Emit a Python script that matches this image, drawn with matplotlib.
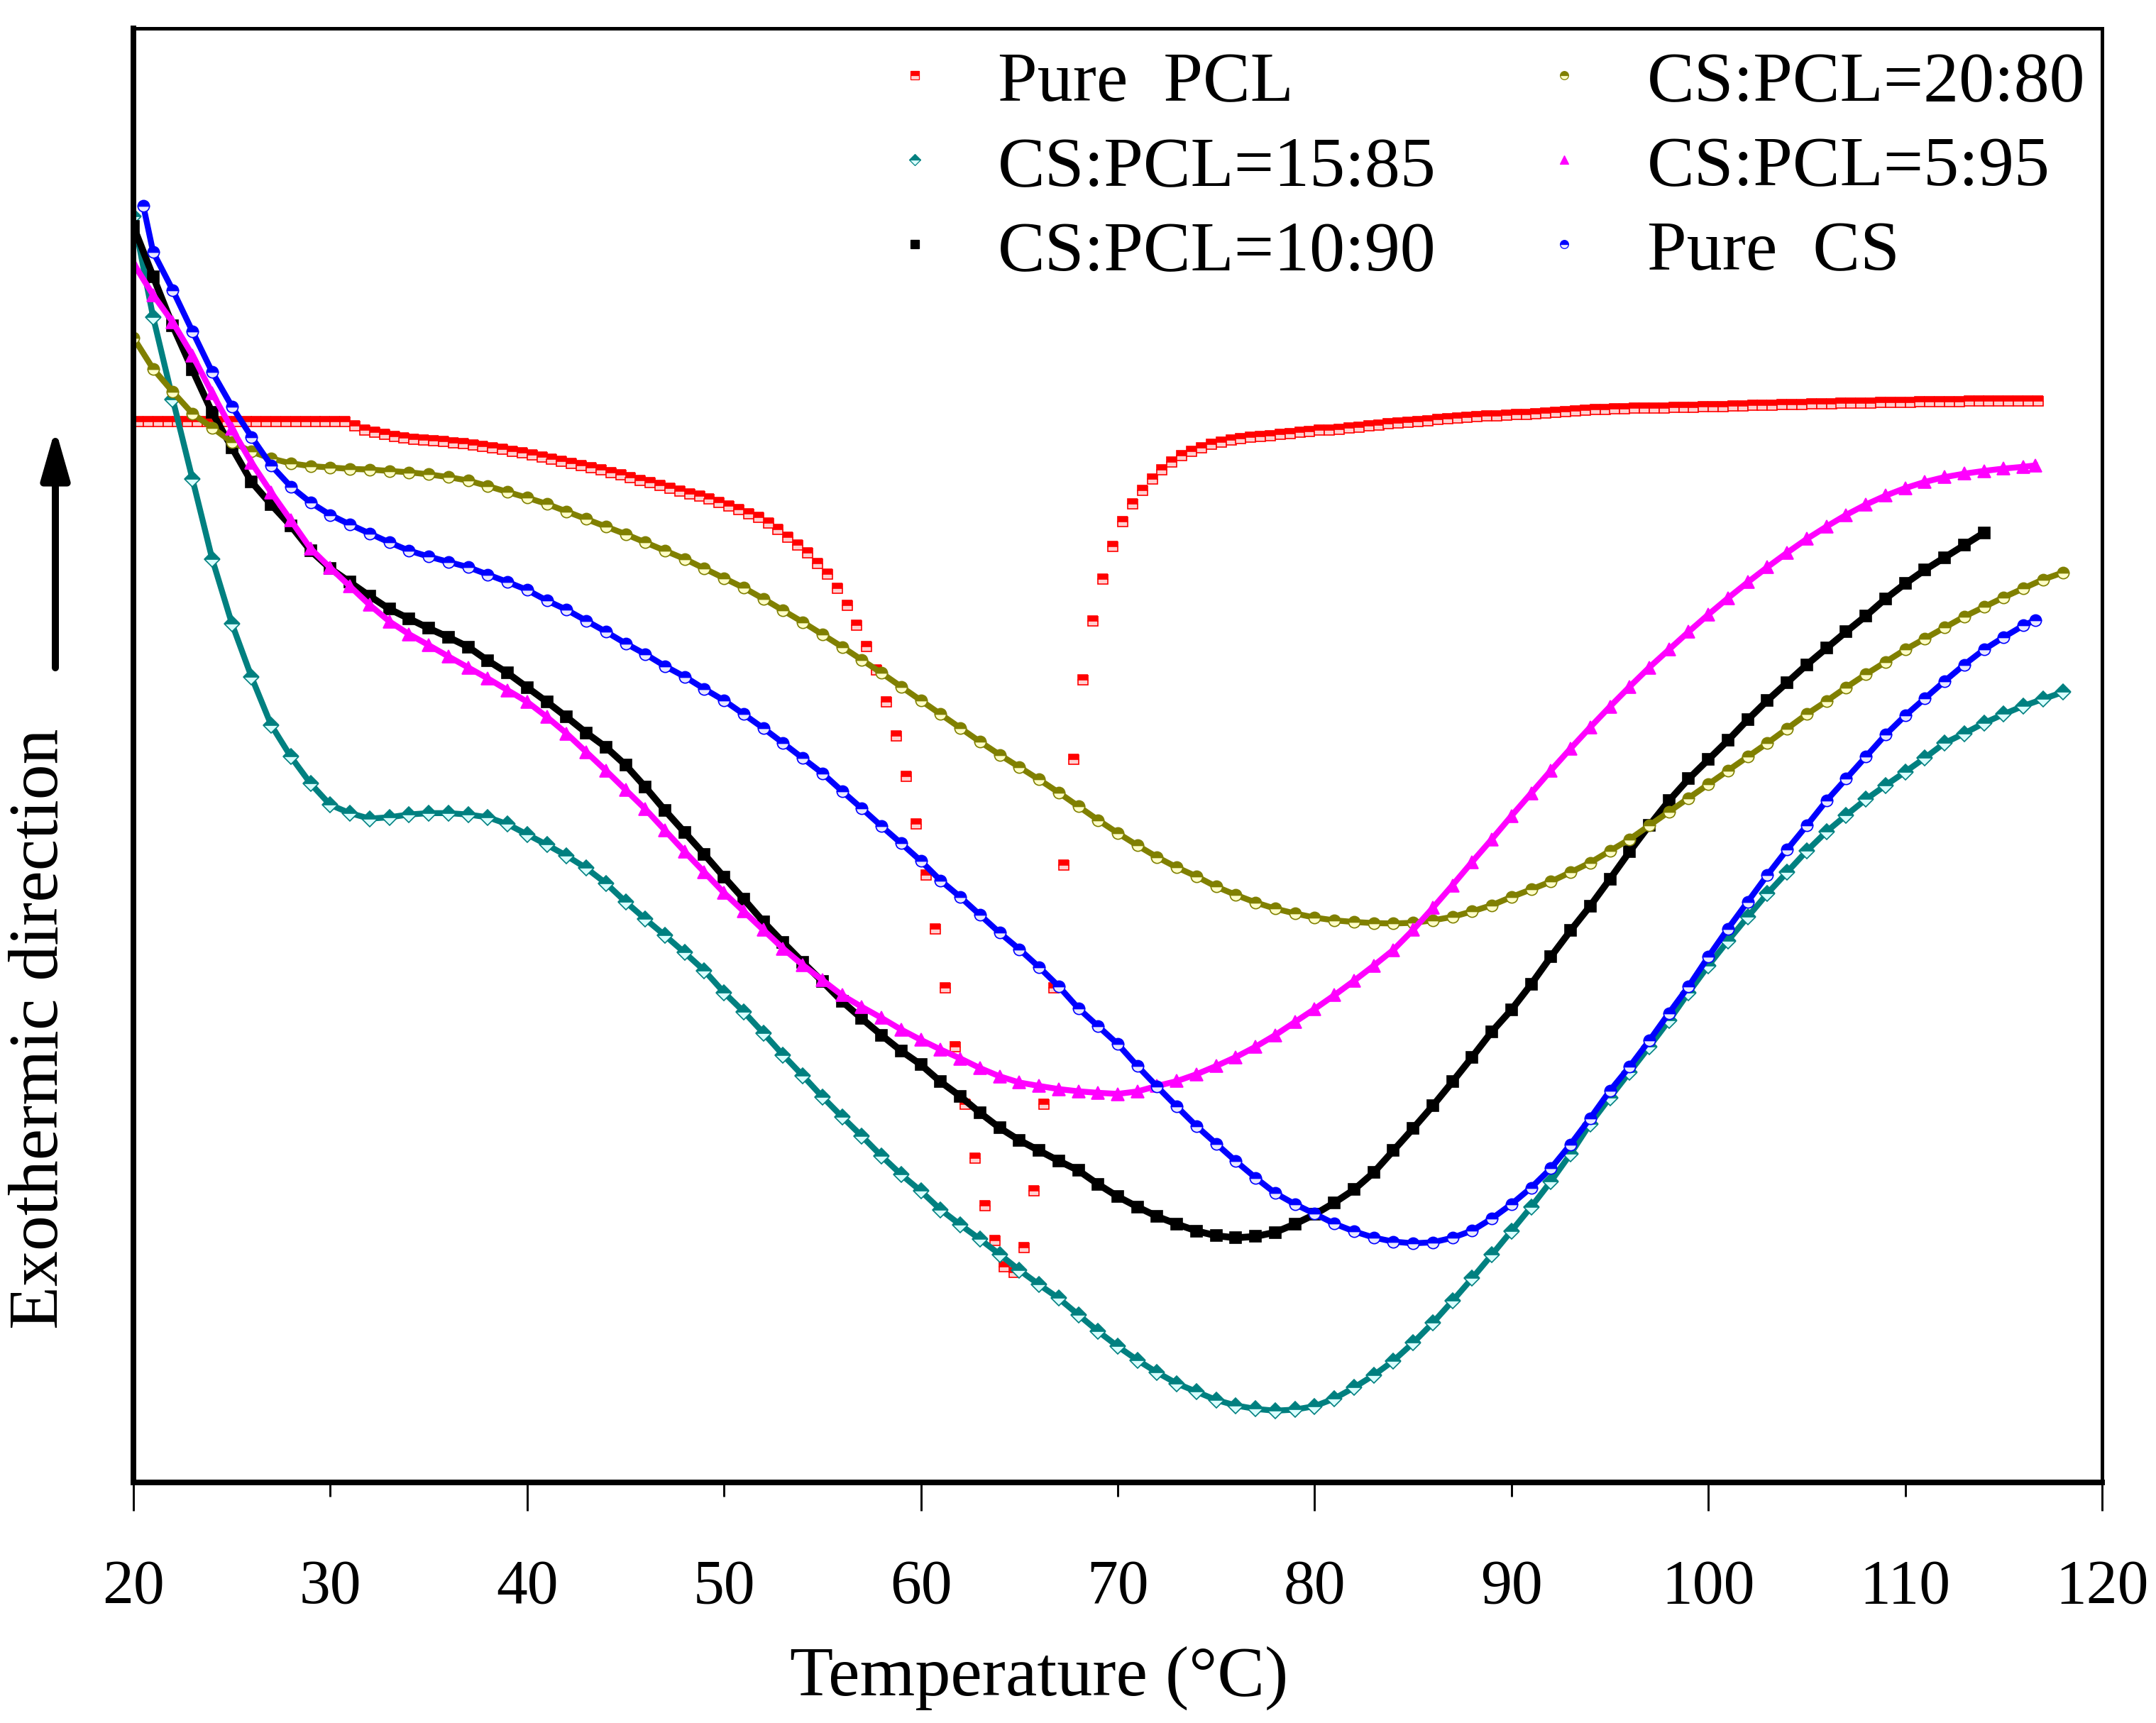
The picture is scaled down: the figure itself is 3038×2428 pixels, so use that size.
import numpy as np
import matplotlib
matplotlib.use('Agg')
import matplotlib.pyplot as plt
from matplotlib.lines import Line2D
from matplotlib.ticker import FormatStrFormatter

# DSC cooling curves.
# y values are relative endothermic depth (arbitrary units, larger = lower on the plot)

# Pure PCL, sampled every 0.5 C
t_pcl = np.arange(20.25, 117, 0.5)
pcl = [307, 307, 307, 307, 307, 307, 307, 307, 307, 307,
       307, 307, 307, 307, 307, 307, 307, 307, 307, 307,
       307, 307, 310, 313, 315, 316.5, 318, 319, 320, 320.5,
       321, 321.5, 322.5, 323, 324, 325, 326, 327, 328.5, 330,
       331.5, 333, 334.5, 336, 337.5, 339, 340.5, 342, 344, 346,
       348, 350, 351.5, 353.5, 355.5, 357.5, 359.5, 361.5, 363.5, 366,
       368.5, 371, 374, 377, 381, 385.5, 391, 397, 402.5, 410.5,
       418, 428.5, 441, 455, 470.5, 488, 511, 536, 565, 600,
       637, 676.5, 719, 762, 804, 843, 877.5, 903, 922, 926,
       908, 867, 804, 719, 630, 553, 495, 452, 421.5, 398,
       380, 367, 357, 349, 342, 336.5, 332, 328.5, 326, 323.5,
       322, 320.5, 319.5, 318.5, 318, 317.5, 316.5, 316, 315, 314.5,
       313.5, 313, 312.5, 311.5, 311, 310, 309.5, 308.5, 308, 307.5,
       307, 306.5, 305.5, 305, 304.5, 304, 303.5, 303, 303, 302.5,
       302, 302, 301.5, 301, 300.5, 300, 299.5, 299, 298.5, 298.5,
       298, 298, 297.5, 297.5, 297, 297, 296.5, 296.5, 296.5, 296,
       296, 296, 295.5, 295.5, 295, 295, 295, 294.5, 294.5, 294.5,
       294, 294, 294, 293.5, 293.5, 293.5, 293.5, 293, 293, 293,
       293, 292.5, 292.5, 292.5, 292.5, 292.5, 292, 292, 292, 292,
       292, 292, 292, 292]

# CS:PCL=15:85
t_1585 = np.arange(20, 119)
cs1585 = [158, 231, 291, 349, 407, 454, 493, 528, 551, 570.5,
          586, 592, 596, 595, 593, 592, 592, 593, 595, 600,
          607.5, 615, 623, 632, 643, 656.5, 669, 681, 693.5, 706.5,
          722.5, 736.5, 752, 768, 783, 798.5, 813, 827, 841.5, 855,
          867, 880.5, 891.5, 902, 913, 924.5, 935, 945, 957, 969,
          980, 990, 999, 1007, 1013, 1019, 1023, 1025.5, 1026.8, 1026,
          1023.5, 1018, 1010, 1001, 990.5, 977.5, 963, 947, 930.5, 913.4,
          896, 878.5, 860, 840, 818, 799, 780.5, 762, 743, 722.5,
          703, 684.8, 667.5, 650.5, 635, 619.5, 605.5, 593.5, 582, 571.8,
          562, 551.8, 541, 534, 526.5, 520, 514, 509, 504]

# CS:PCL=10:90
t_1090 = np.arange(20, 115)
cs1090 = [165, 201.5, 237.5, 269.5, 300.5, 326, 351, 367.5, 383, 401,
          414, 424, 434, 443.5, 450.5, 457.5, 464, 471, 481, 490,
          500.5, 511, 522, 533.5, 544, 557, 573, 590, 606, 622,
          638.5, 654.5, 671, 686, 700.5, 714.5, 729, 741.5, 753.5, 765,
          775, 787.5, 798, 810, 821, 830, 837.5, 845, 852, 862,
          871, 878.5, 885.5, 891, 896, 899.5, 901, 900, 897, 891,
          884, 875.5, 866, 853.5, 837.5, 821.5, 805, 787.5, 769.5, 751,
          735, 716.5, 696.5, 677.5, 659.5, 640, 620, 601, 583, 567,
          553, 539, 524, 510, 497, 484, 472, 460, 448.5, 436,
          425, 415, 406, 397, 388]

# CS:PCL=20:80
t_2080 = np.arange(20, 119)
cs2080 = [246, 268.7, 285.5, 301.3, 311.5, 322, 329, 334, 337.5, 339.5,
          340.5, 341.5, 342, 343, 344, 345.5, 347.5, 350, 354, 358.3,
          362.5, 367, 372.5, 378, 383.5, 389, 395, 401, 407, 414,
          421, 428, 436, 444.5, 453, 462, 471, 480.5, 490, 500,
          510, 520, 530, 540, 549.5, 558.5, 567.5, 577, 587, 597,
          606.5, 615.5, 624, 631.5, 638, 645.5, 651.5, 657, 661.5, 665,
          668, 670, 671.2, 672, 672.3, 671.8, 670, 667.5, 663.5, 659,
          653, 647.5, 641.8, 635, 628, 619.5, 611, 601, 591, 581,
          571, 561, 551, 541, 530.5, 520, 510.5, 500.5, 491, 482,
          473, 465, 457, 449, 442, 435, 428.5, 422, 417]

# CS:PCL=5:95
t_595 = np.append(np.arange(20, 117), 116.6)
cs595 = [192, 215, 234.8, 258.9, 286.4, 312.3, 337, 358.7, 379, 399.5,
         413.5, 427, 440.5, 452.5, 461.8, 469.8, 478, 486, 494, 502.5,
         511, 522, 534, 547.5, 561, 575, 589, 604.5, 620, 635,
         650, 663.5, 677, 690.5, 702.5, 713.5, 724.5, 733, 741, 749.5,
         757, 764, 770.5, 777.5, 783.5, 788, 790.5, 792.8, 794.4, 795.5,
         796.3, 794.5, 790.5, 787, 782, 776, 769.5, 762, 753.5, 744,
         734.5, 724.5, 714, 703, 691.5, 677, 661, 644.5, 627.5, 611,
         594, 577.5, 561, 545, 529.5, 514.5, 500, 486, 473, 460,
         447.5, 435.5, 424, 413, 402.5, 392.5, 383.5, 375, 367.5, 361,
         355.5, 351, 347.5, 345, 343, 341.3, 340,
         339]

# Pure CS
t_cs = np.concatenate([[20.5], np.arange(21, 117), [116.6]])
pure_cs = [150,
           183.7, 211.5, 241.5, 271, 296, 318.3, 339, 354.5, 366, 375,
           382, 388.5, 395, 401, 405.3, 409.2, 413, 418.4, 423.8, 429.6,
           437.3, 444, 452, 460, 468.5, 476.3, 485, 492.7, 501.6, 510,
           520, 530.2, 541, 552, 563, 576, 588.6, 601.5, 614, 626.8,
           641, 653, 666, 679, 691, 704, 718, 734, 747, 760,
           776, 791, 805.5, 819.7, 832.5, 845.3, 857.3, 868.5, 876.5, 883.5,
           890.7, 896.3, 900.8, 903.8, 905, 904.3, 901, 895.8, 887, 876.5,
           864.5, 850.5, 833, 814, 794, 776.5, 757.5, 737.5, 718, 696.5,
           676, 656.5, 637, 618.5, 601, 583, 567, 551, 535, 521,
           508.5, 496, 484, 473, 464, 455.5,
           451.6]

plt.rcParams['font.family'] = ['Liberation Serif', 'DejaVu Serif']

fig = plt.figure(figsize=(3038/300, 2429/300), dpi=300)
ax = fig.add_axes([188/3038, 1-2090/2429, (2962-188)/3038, (2090-41)/2429])

# label, x, y, colour, marker, size, fillstyle, alt colour, line width
series = [
    ('Pure  PCL', t_pcl, pcl, '#FF0000', 's', 3.2, 'top', '#FFD0D0', 0),
    ('CS:PCL=15:85', t_1585, cs1585, '#008080', 'D', 3.7, 'top', '#D8FFFF', 2.0),
    ('CS:PCL=10:90', t_1090, cs1090, '#000000', 's', 3.7, 'full', '#000000', 2.3),
    ('CS:PCL=20:80', t_2080, cs2080, '#808000', 'o', 3.9, 'top', '#FFFFC8', 2.0),
    ('CS:PCL=5:95', t_595, cs595, '#FF00FF', '^', 4.1, 'full', '#FF00FF', 2.0),
    ('Pure  CS', t_cs, pure_cs, '#0000FF', 'o', 3.9, 'top', '#E8E8FF', 2.0),
]

handles = []
for lab, t, y, c, m, ms, fs, alt, lw in series:
    ax.plot(t, y, color=c, lw=lw, ls='-' if lw else 'none', marker=m, ms=ms,
            mfc=c, mfcalt=alt, fillstyle=fs, mec=c, mew=0.4)
    handles.append(Line2D([], [], ls='none', marker=m, ms=2.8, color=c,
                          mfc=c, mfcalt=alt, fillstyle=fs, mec=c, mew=0.3, label=lab))

ax.set_xlim(20, 120)
ax.set_ylim(1079, 21)
ax.set_yticks([])
ax.set_xticks(range(20, 121, 20))
ax.set_xticks(range(30, 120, 20), minor=True)
ax.xaxis.set_minor_formatter(FormatStrFormatter('%d'))
ax.tick_params(axis='x', which='major', direction='out', length=9.6, width=0.7,
               pad=16, labelsize=21)
ax.tick_params(axis='x', which='minor', direction='out', length=4.8, width=0.7,
               pad=16+4.8, labelsize=21)

for s in ['left', 'bottom']:
    ax.spines[s].set_linewidth(1.9)
for s in ['top', 'right']:
    ax.spines[s].set_linewidth(1.2)

ax.set_xlabel('Temperature (\u00b0C)', fontsize=24)
ax.xaxis.set_label_coords(0.46, -0.112)

ax.legend(handles, [s[0] for s in series],
          ncol=2, frameon=False, loc='upper left', bbox_to_anchor=(0.379, 0.985),
          fontsize=24, handlelength=1.0, handletextpad=0.67, columnspacing=1.3,
          labelspacing=0.28, borderpad=0, borderaxespad=0)

fig.text(57/3038, 1-1450/2429, 'Exothermic direction', rotation=90,
         fontsize=24, ha='center', va='center')
ax.annotate('', xy=(78/3038, 1-605/2429), xytext=(78/3038, 1-942/2429),
            xycoords='figure fraction', textcoords='figure fraction',
            arrowprops=dict(arrowstyle='-|>,head_length=0.7,head_width=0.2',
                            lw=2.4, color='black', mutation_scale=20,
                            shrinkA=0, shrinkB=0))

fig.savefig('out.png', dpi=300)
